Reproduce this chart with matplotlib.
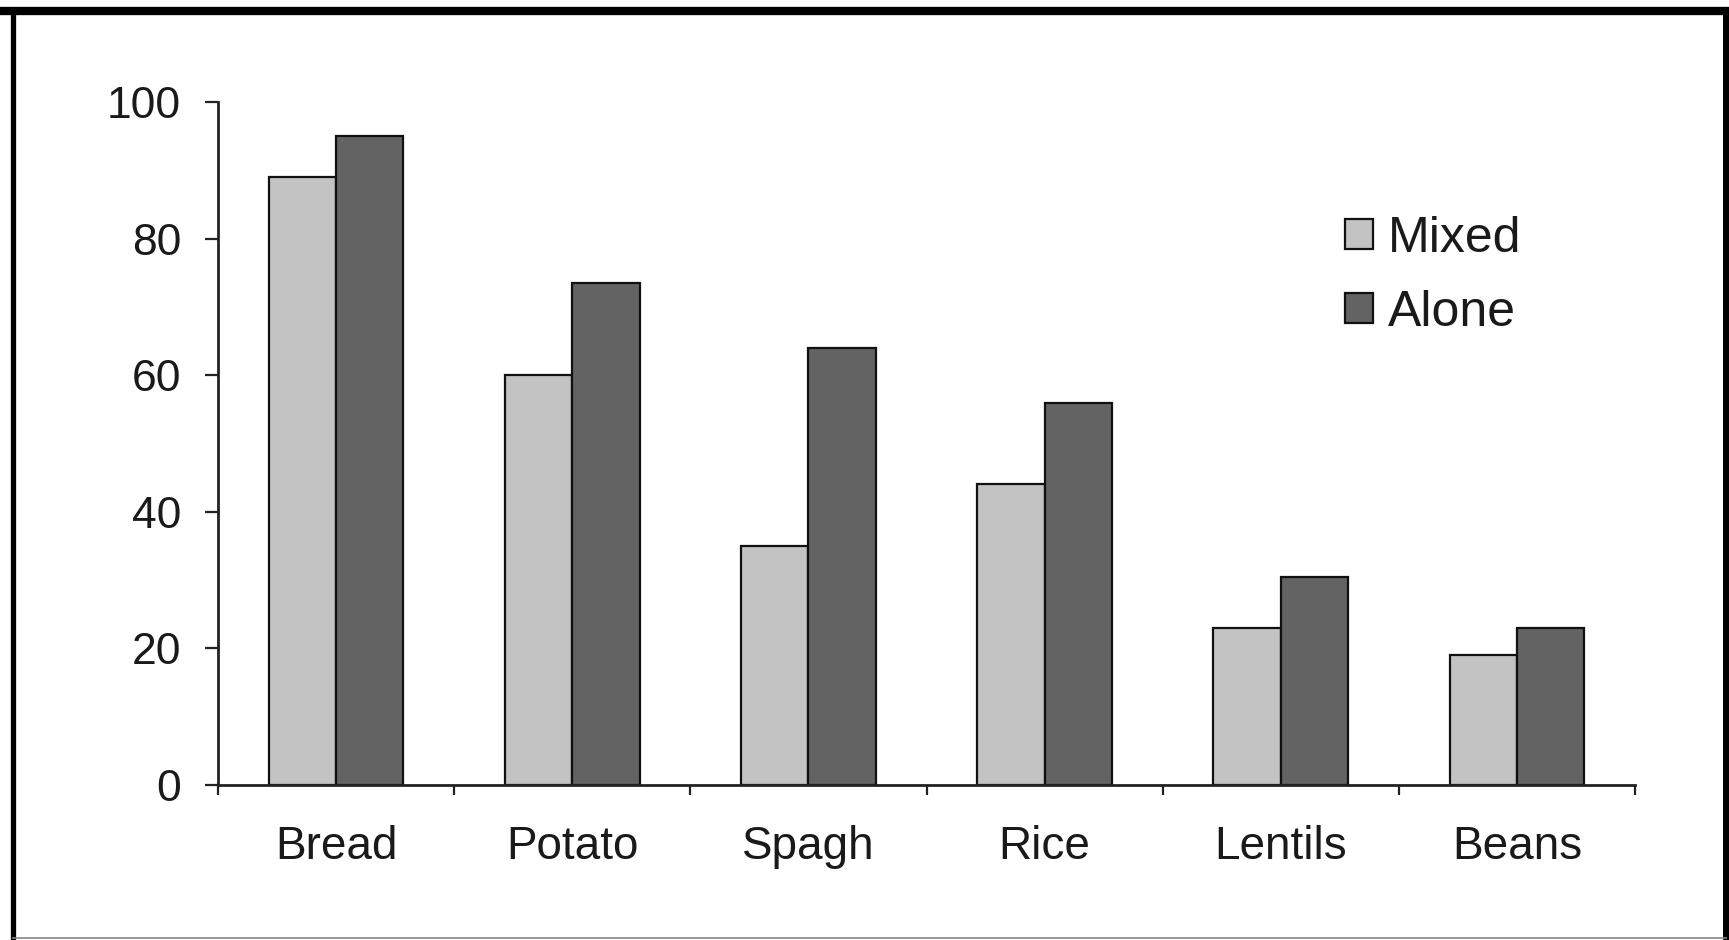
import matplotlib
matplotlib.use("Agg")
import matplotlib.pyplot as plt
import numpy as np
from matplotlib.lines import Line2D

categories = ["Bread", "Potato", "Spagh", "Rice", "Lentils", "Beans"]
mixed = [89, 60, 35, 44, 23, 19]
alone = [95, 73.5, 64, 56, 30.5, 23]
series_names = ["Mixed", "Alone"]
yticks = [0, 20, 40, 60, 80, 100]

plt.rcParams['font.family'] = ['Liberation Sans', 'DejaVu Sans']

fig = plt.figure(figsize=(17.29, 9.40), dpi=100)
ax = fig.add_axes([218/1729, 1-785/940, (1635-218)/1729, (785-102)/940])

x = np.arange(len(categories))
w = 0.285
ax.bar(x - w/2, mixed, w, color="#c3c3c3", edgecolor="#111111", linewidth=1.6, label=series_names[0])
ax.bar(x + w/2, alone, w, color="#636363", edgecolor="#111111", linewidth=1.6, label=series_names[1])

ax.set_xlim(-0.5, len(categories) - 0.5)
ax.set_ylim(0, 100)
ax.set_yticks(yticks)
ax.set_yticklabels([str(v) for v in yticks], fontsize=32, color="#1a1a1a")
ax.set_xticks(x)
ax.set_xticklabels(categories, fontsize=33, color="#1a1a1a")
ax.set_xticks(np.arange(-0.5, len(categories), 1.0), minor=True)
ax.tick_params(axis='x', which='major', length=0, pad=29)
ax.tick_params(axis='x', which='minor', length=7, width=1.6, direction='out', color="#222222")
ax.tick_params(axis='y', which='major', length=9.5, width=1.6, direction='out', pad=17, color="#222222")

for s in ['top', 'right']:
    ax.spines[s].set_visible(False)
for s in ['left', 'bottom']:
    ax.spines[s].set_linewidth(2.0)
    ax.spines[s].set_color("#222222")

leg = ax.legend(loc='upper left', bbox_to_anchor=(1345/1729, 1-216/940), bbox_transform=fig.transFigure,
                frameon=False, fontsize=36, handlelength=0.55, handleheight=0.55,
                handletextpad=0.3, labelspacing=0.55, borderpad=0, borderaxespad=0)
for t in leg.get_texts():
    t.set_color("#1a1a1a")

# outer frame
fig.add_artist(Line2D([0, 1], [1-11/940, 1-11/940], transform=fig.transFigure, color='black', linewidth=6))
fig.add_artist(Line2D([13/1729, 13/1729], [0, 1-11/940], transform=fig.transFigure, color='black', linewidth=3.8))
fig.add_artist(Line2D([1726/1729, 1726/1729], [0, 1-11/940], transform=fig.transFigure, color='black', linewidth=5))
fig.add_artist(Line2D([13/1729, 1726/1729], [2/940, 2/940], transform=fig.transFigure, color='#888888', linewidth=1.2))

fig.savefig("out.png", dpi=100)
